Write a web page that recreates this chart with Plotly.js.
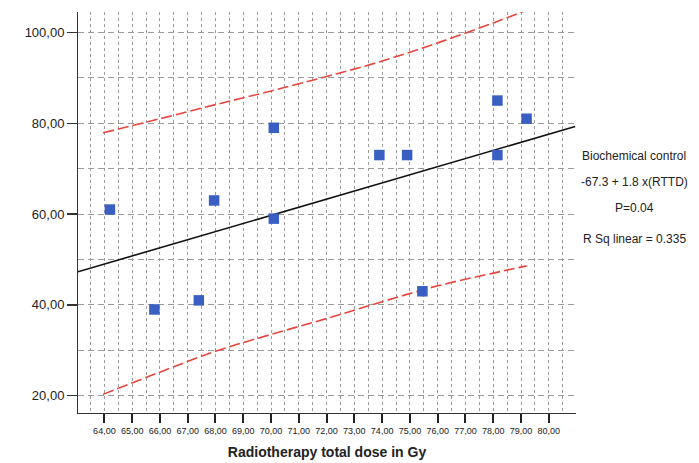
<!DOCTYPE html>
<html>
<head>
<meta charset="utf-8">
<script src="https://cdn.plot.ly/plotly-3.0.1.min.js"></script>
<style>html,body{margin:0;padding:0;background:#fff;}#chart{width:699px;height:463px;}</style>
</head>
<body>
<div id="chart"></div>
<script>
// Observed data (radiotherapy total dose vs biochemical control)
const doseGy = [64.2, 65.8, 67.4, 67.95, 70.1, 70.1, 73.9, 74.9, 75.45, 78.15, 78.15, 79.2];
const biochemControl = [61, 39, 41, 63, 79, 59, 73, 73, 43, 85, 73, 81];

// Fitted regression line
const fitX = [63.05, 80.95];
const fitY = [47.3, 79.3];

// Prediction interval bands
const bandX = [63.95, 66, 68, 70, 72, 74, 76, 78, 79.2];
const bandUpper = [77.9, 81.0, 84.1, 87.1, 90.3, 93.7, 97.7, 102.1, 104.9];
const bandLower = [20.3, 25.2, 29.8, 33.5, 37.0, 40.7, 44.2, 47.0, 48.6];

// Tick labels
const xTickVals = [64,65,66,67,68,69,70,71,72,73,74,75,76,77,78,79,80];
const xTickText = ["64,00","65,00","66,00","67,00","68,00","69,00","70,00","71,00","72,00","73,00","74,00","75,00","76,00","77,00","78,00","79,00","80,00"];
const yTickVals = [20,40,60,80,100];
const yTickText = ["20,00","40,00","60,00","80,00","100,00"];

// Annotation texts
const noteTexts = ["Biochemical control", "-67.3 + 1.8 x(RTTD)", "P=0.04", "R Sq linear = 0.335"];

const FONT = "Liberation Sans, Arial, sans-serif";
const gridCol = "#9c9c9c";

const traces = [
  {x: bandX, y: bandUpper, mode: "lines", line: {color: "#e8453c", width: 1.6, dash: "11px,4px", shape: "spline"}, hoverinfo: "skip"},
  {x: bandX, y: bandLower, mode: "lines", line: {color: "#e8453c", width: 1.6, dash: "11px,4px", shape: "spline"}, hoverinfo: "skip"},
  {x: fitX, y: fitY, mode: "lines", line: {color: "#111111", width: 1.6}, hoverinfo: "skip"},
  {x: doseGy, y: biochemControl, mode: "markers", marker: {symbol: "square", size: 10.5, color: "#3a5fc2", line: {width: 0}}}
];

const annY = [0.642, 0.575, 0.511, 0.434];
const annotations = noteTexts.map((t, i) => ({
  text: t, xref: "paper", yref: "paper", x: 1.117, y: annY[i],
  xanchor: "center", yanchor: "middle", showarrow: false,
  font: {family: FONT, size: 12, color: "#222"}
}));

const layout = {
  width: 699, height: 463,
  margin: {l: 78, r: 123, t: 12, b: 50},
  paper_bgcolor: "#fff", plot_bgcolor: "#fff",
  showlegend: false,
  font: {family: FONT, color: "#222"},
  xaxis: {
    range: [63.05, 80.98],
    tickmode: "array", tickvals: xTickVals, ticktext: xTickText,
    tickfont: {family: FONT, size: 9, color: "#222"},
    ticks: "outside", ticklen: 9, tickwidth: 2, tickcolor: "#222",
    showline: true, linecolor: "#333", linewidth: 1,
    showgrid: true, gridcolor: gridCol, gridwidth: 1, griddash: "3px,3px",
    minor: {tickmode: "linear", tick0: 63.5, dtick: 0.5, showgrid: true, gridcolor: gridCol, gridwidth: 1, griddash: "3px,3px"},
    zeroline: false,
    title: {text: "<b>Radiotherapy total dose in Gy</b>", font: {family: FONT, size: 14, color: "#222"}, standoff: 12}
  },
  yaxis: {
    range: [16.2, 104.5],
    tickmode: "array", tickvals: yTickVals, ticktext: yTickText,
    tickfont: {family: FONT, size: 13, color: "#222"},
    ticks: "outside", ticklen: 10, tickwidth: 1.5, tickcolor: "#333",
    showline: true, linecolor: "#333", linewidth: 1,
    showgrid: true, gridcolor: gridCol, gridwidth: 1, griddash: "6px,4px",
    minor: {tickmode: "linear", tick0: 10, dtick: 10, showgrid: true, gridcolor: gridCol, gridwidth: 1, griddash: "6px,4px"},
    zeroline: false
  },
  annotations: annotations
};

Plotly.newPlot("chart", traces, layout, {displayModeBar: false, staticPlot: true});
</script>
</body>
</html>
